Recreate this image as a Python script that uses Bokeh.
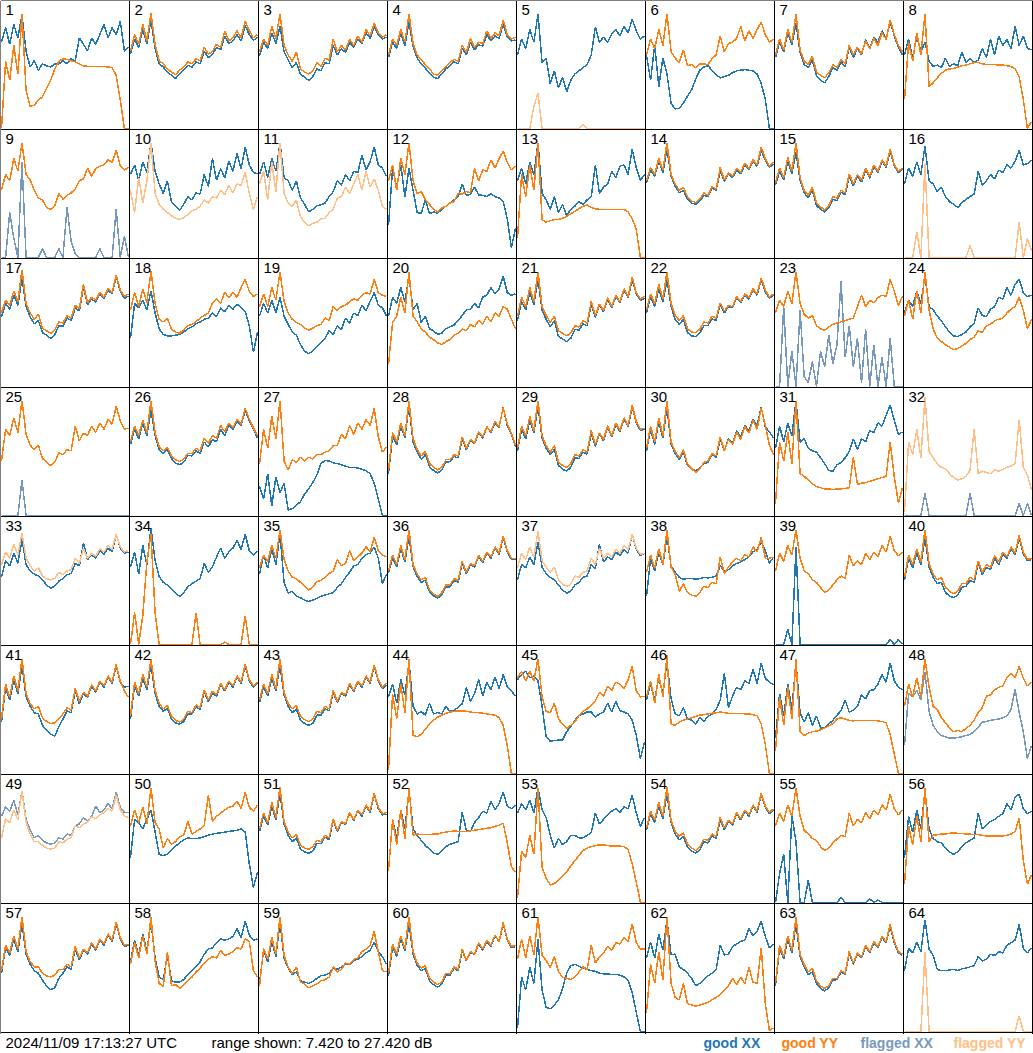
import numpy as np
from bokeh.plotting import figure
from bokeh.models import Range1d, InlineStyleSheet
from bokeh.embed import file_html
from bokeh.resources import INLINE
from bokeh.core.properties import value

DB_LO, DB_HI = 7.42, 27.42

XX_1 = [21.0,23.3,20.7,23.8,21.7,25.3,19.6,17.1,18.1,16.6,17.6,17.3,17.1,17.6,17.6,18.1,17.6,18.4,18.1,21.7,20.7,19.6,21.7,20.7,22.2,23.8,21.7,23.3,22.2,24.3,19.6,20.2]
YY_1 = [7.4,18.0,15.0,20.5,16.0,25.5,13.4,10.9,11.1,11.9,12.4,13.7,15.0,16.8,18.0,18.4,18.3,18.1,17.9,17.6,17.3,17.2,17.2,17.2,17.2,17.2,17.1,17.0,15.8,11.9,7.4,7.4]
XX_2 = [19.2,21.5,20.2,23.0,20.8,24.5,20.0,17.6,17.1,16.3,15.8,15.3,16.0,16.6,17.4,17.1,17.9,17.6,19.6,18.6,19.1,20.2,19.8,22.0,20.8,21.2,22.2,21.2,23.6,22.2,21.3,21.8]
YY_2 = [19.6,22.2,20.7,23.8,21.2,25.6,20.7,18.1,17.6,16.8,16.3,15.9,16.6,17.1,17.9,17.6,18.4,18.1,20.2,19.1,19.6,20.7,20.2,22.8,21.2,21.7,22.8,21.7,24.3,22.8,21.7,22.2]
XX_3 = [18.8,21.0,20.0,22.5,20.8,23.5,19.5,18.2,17.0,17.8,16.0,15.5,15.0,15.6,16.8,16.5,17.8,17.6,20.5,19.0,20.0,19.4,21.0,20.2,21.5,20.8,22.5,21.6,23.5,22.2,21.5,21.8]
YY_3 = [19.5,21.5,20.5,23.5,21.5,25.5,20.5,19.0,18.0,19.5,16.8,16.3,16.0,16.5,17.8,17.2,18.5,18.2,21.5,19.5,20.5,19.8,21.5,20.5,22.0,21.0,23.0,22.0,24.0,22.5,21.8,22.2]
XX_4 = [18.6,21.0,20.0,22.4,20.5,24.2,20.3,18.5,17.6,16.9,16.2,15.5,15.3,16.0,16.8,17.3,17.9,17.6,20.0,19.0,21.0,19.8,20.6,20.4,22.2,21.2,22.0,21.6,23.8,21.8,21.2,21.4]
YY_4 = [19.0,21.5,20.5,23.0,21.0,25.5,20.8,19.0,18.2,17.5,16.8,16.0,15.8,16.5,17.2,17.8,18.3,18.0,20.5,19.4,21.6,20.2,21.0,20.8,22.8,21.6,22.5,22.0,24.5,22.2,21.5,21.8]
XX_5 = [19.0,21.5,20.0,23.0,21.0,25.5,17.8,18.5,14.5,16.5,13.8,15.5,13.2,15.0,16.0,16.5,17.0,17.5,19.0,23.4,21.0,21.8,21.0,22.3,23.0,22.0,23.5,22.5,24.6,22.8,21.5,22.0]
YY_5 = [7.4,7.4,7.4,7.4,10.9,13.0,7.4,7.4,7.4,7.4,7.4,7.4,7.4,7.4,7.4,7.4,8.0,7.4,7.4,7.4,7.4,7.4,7.4,7.4,7.4,7.4,7.4,7.4,7.4,7.4,7.4,7.4]
XX_6 = [19.0,15.0,20.5,14.0,18.5,16.0,11.4,10.5,10.6,11.4,12.5,13.5,15.2,16.6,17.1,17.3,16.6,15.9,15.4,15.6,15.8,16.2,16.5,16.6,16.7,16.6,16.5,16.0,14.5,12.0,7.4,7.4]
YY_6 = [19.0,21.5,20.0,23.0,20.5,25.5,19.5,18.5,17.8,19.8,17.3,17.5,17.0,17.6,17.6,17.5,18.4,19.0,22.0,19.5,20.8,21.0,21.6,23.5,21.2,22.8,21.6,23.0,24.2,22.2,21.0,21.5]
XX_7 = [18.6,21.0,19.5,22.5,20.6,24.0,19.4,17.5,17.0,18.2,15.7,15.0,14.6,15.6,17.0,16.6,17.9,17.2,20.2,18.6,20.0,19.0,21.4,20.0,21.8,21.0,22.8,21.6,24.2,22.0,20.2,19.0]
YY_7 = [19.0,21.5,19.8,23.0,21.0,25.5,19.8,18.0,17.5,18.8,16.3,15.8,15.4,16.2,17.5,17.0,18.3,17.6,20.5,19.0,20.2,19.2,21.2,20.0,21.6,20.5,22.5,21.4,24.5,22.2,20.5,19.5]
XX_8 = [19.0,21.5,18.5,22.0,19.5,21.0,18.0,17.2,17.4,17.0,18.5,17.2,17.6,17.3,19.5,17.8,18.5,17.8,18.2,20.0,18.6,21.5,19.0,22.0,20.5,21.4,20.0,23.5,20.5,22.0,20.0,19.8]
YY_8 = [12.0,21.0,18.0,22.5,19.0,25.5,14.0,14.6,15.4,16.1,16.6,16.8,16.9,17.1,17.3,17.4,17.6,17.8,17.8,17.6,17.5,17.5,17.5,17.4,17.4,17.3,17.2,16.8,15.5,12.0,7.4,8.5]
XX_9 = [7.4,7.4,14.5,10.5,7.4,22.5,7.4,7.4,7.4,7.4,8.8,7.4,7.4,7.4,8.8,7.4,15.3,10.0,8.0,7.4,7.4,7.4,7.4,7.4,8.8,7.4,7.4,7.4,15.0,7.4,10.8,7.4]
YY_9 = [18.0,20.5,19.5,23.0,21.0,25.5,20.5,19.6,18.0,16.8,16.5,15.3,15.0,15.5,17.5,16.6,17.2,17.6,18.2,19.5,19.8,21.5,20.2,21.4,21.8,22.0,22.8,22.4,24.3,21.8,21.2,21.6]
XX_10 = [20.5,22.0,19.5,22.5,20.8,25.5,21.0,19.0,17.5,19.5,16.2,15.5,14.9,15.8,17.0,16.5,17.6,17.4,20.5,18.6,23.0,19.6,21.4,20.0,22.6,21.0,23.8,21.4,24.8,22.0,20.8,20.6]
YY_10 = [18.0,14.5,20.0,16.0,19.5,25.5,17.5,15.8,15.0,14.5,14.0,13.6,13.4,13.7,14.2,14.8,15.0,15.5,16.5,16.0,17.0,16.8,18.0,17.3,18.8,17.6,19.0,18.8,20.8,17.5,15.0,17.0]
XX_11 = [20.5,22.5,20.0,23.0,21.0,25.5,20.0,19.5,18.0,19.5,16.8,15.8,14.6,15.0,15.6,15.7,16.0,17.0,17.8,19.5,18.8,20.5,19.5,21.0,20.8,23.5,21.2,22.5,24.8,22.0,21.5,20.2]
YY_11 = [19.0,21.0,16.5,22.5,17.8,25.5,17.5,16.0,15.5,16.5,13.8,13.0,12.4,12.8,13.0,13.5,13.6,14.5,15.0,16.8,17.0,18.5,17.5,19.0,20.5,18.0,21.0,18.5,19.8,18.0,15.5,15.0]
XX_12 = [12.5,21.5,18.5,22.0,17.0,21.5,18.0,14.5,14.4,16.5,14.3,14.6,14.4,15.0,15.5,16.0,16.5,17.0,19.0,17.2,17.4,18.5,17.3,17.2,17.0,17.5,17.0,16.8,16.2,13.5,9.0,12.0]
YY_12 = [19.5,22.0,18.0,23.0,20.5,25.5,19.5,17.5,17.8,16.5,15.8,15.0,14.6,15.2,15.5,16.0,16.2,17.5,17.4,17.8,17.6,21.5,19.5,21.2,21.0,22.8,21.5,23.0,24.2,22.4,21.2,21.8]
XX_13 = [19.5,21.5,19.0,22.5,20.5,25.5,17.5,16.5,15.0,17.0,14.5,15.8,14.0,15.0,15.5,16.2,15.8,16.5,17.0,22.0,17.5,18.5,19.0,21.0,20.0,21.8,22.0,20.5,24.5,21.5,19.6,20.5]
YY_13 = [10.5,20.5,17.0,22.0,18.0,25.5,13.4,13.0,13.2,13.4,13.4,13.6,13.9,14.3,14.7,15.1,15.5,15.7,15.3,15.1,15.0,15.0,15.0,15.0,15.0,15.0,15.0,14.6,13.5,11.8,7.4,7.4]
XX_14 = [19.2,21.2,20.2,22.6,20.8,24.5,20.2,18.6,17.6,18.0,16.6,16.0,15.8,16.3,17.2,17.0,18.3,18.0,21.0,19.4,20.6,20.0,21.2,20.6,22.0,21.2,22.5,21.8,24.3,22.7,21.6,22.2]
YY_14 = [19.5,21.6,20.5,23.0,21.2,25.5,20.5,19.0,18.0,18.5,17.0,16.3,16.1,16.6,17.6,17.2,18.6,18.2,21.6,19.6,20.8,20.2,21.5,20.8,22.3,21.4,22.8,22.0,24.8,23.0,21.8,22.4]
XX_15 = [18.8,21.0,19.6,22.5,20.6,24.0,19.6,17.6,16.8,18.0,15.6,15.0,14.6,15.3,16.6,16.4,17.7,17.3,20.2,18.7,20.2,19.3,21.2,19.9,21.7,20.8,22.6,21.6,24.2,21.8,20.8,21.3]
YY_15 = [19.2,21.5,20.0,23.2,21.0,25.5,20.0,18.0,17.2,18.5,16.0,15.4,14.9,15.6,17.0,16.8,18.0,17.6,20.6,19.0,20.5,19.6,21.5,20.2,22.0,21.0,22.8,21.8,24.5,22.0,21.0,21.5]
XX_16 = [19.0,21.5,20.2,22.5,20.5,25.0,19.5,19.0,17.8,18.5,17.0,16.2,15.8,15.3,16.0,16.6,17.0,17.4,21.0,18.8,19.5,20.5,19.8,21.2,20.8,22.0,21.5,22.6,24.3,22.0,22.2,22.8]
YY_16 = [7.4,7.4,7.4,11.4,7.4,22.2,7.4,7.4,7.4,7.4,7.4,7.4,7.4,7.4,7.4,7.4,9.3,7.4,7.4,7.4,7.4,7.4,7.4,7.4,7.4,7.4,7.4,7.4,13.0,7.4,10.4,8.5]
XX_17 = [18.4,20.5,19.6,21.8,20.2,24.5,20.0,18.4,17.3,17.8,15.9,15.5,15.0,15.6,17.0,16.9,18.2,17.8,19.8,19.3,23.0,20.3,21.2,20.7,22.0,21.3,22.6,22.0,24.8,22.4,21.3,21.7]
YY_17 = [19.0,21.0,20.2,22.5,20.8,25.8,20.5,19.0,18.0,18.8,16.6,16.2,15.8,16.3,17.6,17.4,18.6,18.2,20.2,19.6,23.5,20.6,21.5,21.0,22.2,21.5,22.8,22.2,25.0,22.6,21.6,22.0]
XX_18 = [15.0,20.5,19.8,21.0,19.5,22.5,19.0,16.5,15.6,15.4,15.4,15.5,15.6,16.0,16.5,16.8,17.3,17.6,18.0,18.2,19.0,18.4,19.8,19.2,20.2,19.6,20.4,19.8,19.2,17.0,12.8,16.0]
YY_18 = [19.5,22.2,20.0,22.8,20.6,25.6,20.5,18.0,17.6,18.2,16.4,16.0,15.8,16.4,17.0,17.2,17.6,18.2,18.6,19.0,20.6,21.2,20.5,22.3,21.4,22.2,21.5,23.0,24.3,22.4,21.6,22.0]
XX_19 = [18.5,20.5,19.0,21.0,19.0,21.5,18.5,17.2,16.0,15.5,14.0,13.0,12.6,13.0,13.7,14.4,15.0,16.2,15.6,17.0,16.4,18.2,17.4,19.0,18.6,20.2,19.4,20.8,22.2,20.2,19.8,18.5]
YY_19 = [20.0,22.0,20.0,23.0,21.0,25.5,20.8,19.0,18.0,17.5,17.2,16.6,16.3,16.6,17.0,17.2,18.2,17.8,20.0,19.4,20.0,20.2,20.8,21.2,21.0,21.8,22.2,22.0,24.3,22.2,21.8,21.6]
XX_20 = [18.5,21.5,20.5,23.0,20.8,24.8,19.5,20.5,17.5,18.5,16.5,16.2,15.6,15.8,16.5,16.8,17.1,17.8,18.6,19.5,19.6,20.5,19.8,21.5,21.8,23.0,22.0,22.8,24.8,22.2,21.8,22.0]
YY_20 = [10.9,17.5,18.5,21.5,19.0,25.5,18.5,17.6,16.5,16.0,15.2,14.8,14.3,14.0,14.5,14.8,15.5,15.8,16.5,16.2,17.2,16.8,17.8,17.2,18.5,17.6,19.0,18.5,20.0,19.6,18.0,16.5]
XX_21 = [17.8,20.8,19.5,22.3,20.3,24.3,19.4,18.0,16.8,17.8,15.3,14.9,14.5,15.0,16.4,16.3,17.3,17.0,20.4,18.3,20.2,19.2,21.2,19.8,21.6,20.6,22.6,21.4,24.2,22.0,21.0,21.3]
YY_21 = [18.5,21.5,20.0,23.0,20.8,25.5,20.0,18.6,17.5,18.5,16.2,15.8,15.4,15.8,17.0,16.8,17.8,17.4,20.8,18.6,20.4,19.4,21.4,20.0,21.8,20.8,22.8,21.6,24.6,22.2,21.2,21.6]
XX_22 = [19.0,21.5,20.0,22.8,20.7,24.2,20.0,18.0,17.2,18.0,15.9,15.4,15.3,15.8,17.0,17.0,18.1,17.8,20.3,19.0,20.0,19.8,21.4,20.6,21.8,21.2,22.6,21.8,24.2,22.3,21.3,21.8]
YY_22 = [19.5,22.0,20.5,23.5,21.2,25.5,20.5,18.6,17.8,18.6,16.5,16.0,15.9,16.4,17.6,17.4,18.5,18.2,20.6,19.3,20.2,20.0,21.6,20.8,22.0,21.4,22.8,22.0,24.5,22.6,21.5,22.0]
XX_23 = [7.4,7.4,20.0,7.4,13.0,7.4,19.4,9.0,8.0,11.4,7.4,13.0,10.5,15.5,11.0,14.0,24.0,12.0,17.0,10.5,15.0,8.0,16.5,7.4,14.0,7.4,12.0,7.4,15.0,7.4,7.4,7.4]
YY_23 = [19.0,21.0,20.0,22.5,20.5,25.5,20.5,18.8,18.2,18.6,17.0,16.5,16.3,16.8,17.2,17.4,17.6,17.8,18.0,18.2,20.0,21.8,20.0,21.0,20.6,21.4,21.8,21.6,24.3,22.4,20.2,21.6]
XX_24 = [19.0,21.0,20.0,22.5,20.5,24.8,20.0,19.5,18.5,17.8,16.8,16.0,15.4,15.3,15.6,16.0,16.8,17.4,19.8,18.6,18.4,19.6,20.0,21.5,21.2,23.0,21.8,23.5,24.3,22.2,21.6,21.8]
YY_24 = [18.5,21.0,18.0,22.5,19.0,25.5,19.4,16.5,15.0,14.5,14.0,13.6,13.2,13.4,13.8,14.2,14.8,15.2,16.2,15.9,17.0,17.2,17.8,18.0,18.2,19.0,19.6,20.0,21.5,19.4,16.5,18.0]
XX_25 = [7.4,7.4,7.4,7.4,7.4,13.0,7.4,7.4,7.4,7.4,7.4,7.4,7.4,7.4,7.4,7.4,7.4,7.4,7.4,7.4,7.4,7.4,7.4,7.4,7.4,7.4,7.4,7.4,7.4,7.4,7.4,7.4]
YY_25 = [16.0,21.0,20.0,22.8,20.5,25.5,20.2,18.5,17.8,18.5,16.4,15.8,15.3,15.8,17.3,17.0,17.8,17.6,21.5,19.2,20.4,20.0,21.5,20.5,22.0,21.0,22.5,21.8,24.6,22.3,21.0,21.2]
XX_26 = [18.6,21.0,19.5,22.0,20.0,24.0,20.0,17.8,17.2,17.8,16.4,15.7,15.4,15.8,16.9,16.8,17.6,17.2,19.0,18.2,19.4,19.0,21.0,20.0,21.6,21.0,22.3,21.6,24.0,22.3,21.0,19.6]
YY_26 = [19.0,21.5,20.0,22.5,20.5,25.5,20.5,18.2,17.6,18.2,16.8,16.2,15.9,16.3,17.2,17.2,18.0,17.6,19.6,18.8,20.0,19.6,21.6,20.6,22.0,21.2,22.6,21.8,24.3,22.6,21.2,20.0]
XX_27 = [12.0,10.0,14.0,9.0,13.5,11.0,12.5,8.3,8.5,9.0,9.6,10.8,11.6,12.6,13.8,15.6,16.1,16.0,15.7,15.6,15.4,15.2,15.0,15.0,14.9,14.7,14.5,14.0,12.5,10.0,7.4,7.4]
YY_27 = [15.5,21.0,18.0,23.0,19.5,25.5,16.0,14.6,16.2,15.8,16.6,16.0,16.6,16.3,17.0,17.0,17.4,17.6,18.4,18.5,20.2,19.5,21.6,20.2,22.0,21.0,22.5,21.6,24.3,19.8,17.4,18.2]
XX_28 = [14.0,20.0,18.5,21.5,19.6,24.8,19.0,17.4,16.3,17.0,15.1,14.5,14.1,14.6,15.8,15.9,16.7,16.5,19.5,17.8,19.2,18.7,20.5,19.6,21.4,20.5,22.0,21.3,24.5,21.5,20.2,18.2]
YY_28 = [14.5,20.5,19.0,22.0,20.0,25.5,19.5,17.8,16.8,17.5,15.6,15.0,14.6,15.0,16.2,16.2,17.0,16.8,19.8,18.0,19.4,18.8,20.6,19.8,21.4,20.6,22.2,21.4,24.4,21.8,20.4,18.5]
XX_29 = [17.6,21.0,19.5,22.4,20.4,24.6,19.6,18.0,17.0,17.8,15.3,14.7,14.4,15.0,16.5,16.4,17.4,17.1,20.4,18.3,20.2,19.2,21.4,19.8,21.8,20.6,22.6,21.4,24.5,22.0,20.8,21.0]
YY_29 = [18.0,21.5,20.0,23.0,20.8,25.5,20.0,18.4,17.4,18.4,15.8,15.3,15.0,15.6,17.0,16.8,17.8,17.4,20.8,18.6,20.4,19.4,21.6,20.0,22.0,20.8,22.8,21.6,24.8,22.2,21.0,21.2]
XX_30 = [17.6,21.0,18.6,22.2,19.6,24.5,18.6,17.2,16.2,17.4,15.3,14.8,14.5,14.9,15.6,15.8,17.0,16.6,19.4,17.6,19.5,18.8,20.8,19.8,21.6,20.8,22.6,21.6,24.5,21.4,20.6,19.6]
YY_30 = [18.0,21.5,19.0,22.8,20.0,25.5,19.0,17.5,16.5,17.8,15.5,14.8,14.2,14.8,15.8,16.0,17.2,16.8,19.8,17.6,19.4,18.6,20.6,19.4,21.4,20.4,22.4,21.0,24.4,21.6,18.5,17.0]
XX_31 = [18.0,21.5,19.0,22.0,20.0,25.5,19.0,19.5,18.0,17.6,17.4,16.5,15.6,14.5,14.4,15.4,15.8,16.5,17.5,19.5,17.8,19.5,19.0,20.8,20.5,22.0,21.5,23.2,24.8,22.4,20.2,20.6]
YY_31 = [9.3,19.0,16.0,20.5,15.5,25.5,14.0,13.6,13.0,12.4,12.0,11.8,11.6,11.6,11.5,11.6,11.6,11.7,11.8,16.6,12.3,12.5,12.6,12.8,13.0,13.2,13.4,13.6,19.0,13.5,9.4,11.8]
XX_32 = [7.4,7.4,7.4,7.4,7.4,10.9,7.4,7.4,7.4,7.4,7.4,7.4,7.4,7.4,7.4,7.4,10.9,7.4,7.4,7.4,7.4,7.4,7.4,7.4,7.4,7.4,7.4,7.4,9.3,7.4,9.3,7.4]
YY_32 = [8.0,19.0,17.0,21.0,16.5,26.0,17.5,16.5,15.6,15.0,14.8,14.0,13.4,13.0,13.2,13.6,14.5,21.0,14.0,14.4,14.2,14.0,14.6,14.4,14.7,15.0,15.2,15.6,22.5,15.0,13.8,11.5]
XX_33 = [18.0,20.6,19.8,21.8,20.2,24.0,20.0,19.0,18.5,18.2,17.6,16.8,16.3,16.6,17.4,17.8,18.4,18.6,20.2,19.8,23.4,20.8,21.5,21.0,22.2,21.6,22.6,22.0,24.8,22.6,21.8,22.0]
YY_33 = [20.0,22.0,21.0,23.2,21.6,25.0,21.0,19.8,19.0,19.5,18.2,17.8,17.6,17.8,18.8,18.4,19.0,19.2,21.0,20.2,22.5,21.0,21.8,21.3,22.5,22.0,23.0,22.4,24.8,22.8,22.0,22.2]
XX_34 = [19.6,22.0,18.5,23.0,20.0,25.8,20.7,18.1,17.2,16.8,16.2,15.5,15.0,15.6,16.5,17.0,17.4,17.8,20.2,18.8,19.6,21.2,22.6,21.0,22.0,22.6,23.8,22.4,24.8,22.2,21.5,22.2]
YY_34 = [7.4,12.5,7.4,12.0,20.5,24.8,12.4,7.4,7.4,7.4,7.4,7.4,7.4,7.4,7.4,7.4,12.4,7.4,7.4,7.4,7.4,7.4,7.4,7.8,7.4,7.4,7.4,7.4,11.9,7.4,7.4,7.4]
XX_35 = [18.5,21.5,19.5,22.5,20.0,24.8,17.2,15.5,15.8,15.0,14.8,14.4,14.2,14.4,14.7,15.0,15.2,15.4,15.6,16.4,17.0,18.0,18.8,19.8,20.0,21.0,21.6,21.8,22.8,21.0,17.0,18.5]
YY_35 = [19.5,21.5,20.5,23.0,21.0,25.5,20.8,19.0,18.0,17.8,17.2,16.6,16.0,16.5,17.3,17.5,18.0,18.6,19.0,20.8,19.8,20.2,22.2,20.6,21.2,21.8,22.8,22.0,24.3,22.2,21.5,21.2]
XX_36 = [18.7,21.1,19.6,22.6,20.4,24.4,19.7,18.1,17.2,17.6,15.7,15.1,14.7,15.3,16.5,16.5,17.5,17.2,20.2,18.5,20.0,19.6,21.3,20.3,21.8,21.0,22.6,21.6,24.3,22.0,20.8,20.8]
YY_36 = [19.0,21.5,20.0,23.0,20.8,25.5,20.0,18.5,17.6,18.0,16.0,15.4,15.0,15.6,16.8,16.8,17.8,17.5,20.5,18.8,20.2,19.8,21.5,20.5,22.0,21.2,22.8,21.8,24.5,22.2,21.0,21.0]
XX_37 = [17.6,20.0,19.5,21.2,20.0,23.5,19.6,18.6,18.0,17.6,16.8,16.0,15.5,15.8,16.8,17.2,18.0,18.2,20.0,19.4,23.2,20.4,21.2,20.8,22.0,21.4,22.4,21.8,24.8,22.4,21.4,21.8]
YY_37 = [19.5,21.8,20.8,22.8,21.2,25.2,20.6,19.6,18.8,19.6,17.6,16.9,16.6,16.9,18.2,18.0,18.8,19.0,21.0,20.0,22.6,21.0,21.8,21.2,22.4,21.8,23.0,22.3,24.8,22.6,21.6,21.8]
XX_38 = [15.0,21.0,19.0,22.0,20.0,24.5,19.8,18.8,18.0,17.7,17.8,17.8,17.7,17.8,18.0,17.9,18.0,18.2,19.8,19.0,19.2,19.8,20.2,20.4,20.8,21.2,22.0,22.4,23.6,22.2,20.2,21.2]
YY_38 = [18.8,21.5,19.5,22.5,20.0,25.5,19.6,18.5,15.8,17.0,15.6,15.2,15.0,15.6,16.6,16.4,17.2,17.0,21.2,18.6,19.6,20.4,21.0,20.6,21.6,21.2,22.8,22.0,24.3,21.0,21.0,21.2]
XX_39 = [7.4,7.4,7.4,9.8,7.4,22.8,7.4,7.4,7.4,7.4,7.4,7.4,7.4,7.4,7.4,7.4,7.4,7.4,7.4,7.4,7.4,7.4,7.4,7.4,7.4,7.4,7.4,7.4,8.2,7.4,8.2,7.4]
YY_39 = [19.0,21.8,20.5,23.0,21.5,25.5,21.0,19.0,18.6,17.6,17.2,16.4,15.6,16.0,16.8,17.6,18.2,17.8,21.5,19.8,20.6,20.0,21.8,20.8,22.0,21.2,23.0,22.0,24.4,22.2,21.4,22.0]
XX_40 = [17.6,21.0,19.5,21.8,20.0,24.2,19.6,18.0,17.0,17.2,15.6,15.0,14.8,15.2,16.4,16.6,17.5,17.2,20.2,18.4,19.6,19.2,21.0,20.0,21.6,21.0,22.5,21.5,24.3,21.7,20.6,20.8]
YY_40 = [18.0,21.5,20.0,22.5,20.5,25.5,20.2,18.5,17.6,18.0,16.4,15.8,15.4,15.8,17.0,17.0,18.0,17.6,20.6,18.8,20.0,19.6,21.4,20.4,22.0,21.2,22.8,21.8,24.6,22.0,20.8,21.0]
XX_41 = [15.5,21.0,19.0,22.2,20.0,24.4,19.5,18.0,17.0,16.8,15.0,14.2,13.6,13.3,14.8,16.0,17.3,17.0,20.4,18.4,20.0,19.4,21.2,20.2,21.8,21.0,22.6,21.6,24.4,21.8,21.0,21.2]
YY_41 = [16.0,21.5,19.5,22.8,20.5,25.5,20.0,18.4,17.6,18.0,16.2,15.6,15.3,15.4,16.0,16.8,17.8,17.4,20.8,18.8,20.2,19.6,21.4,20.4,22.0,21.2,22.8,21.8,24.6,22.0,20.4,19.4]
XX_42 = [16.0,21.3,19.6,22.4,20.6,24.5,20.0,18.0,17.2,17.7,16.0,15.4,15.2,15.6,16.8,16.8,17.9,17.5,20.3,18.7,20.1,19.6,21.4,20.4,21.8,21.0,22.6,21.6,24.4,22.0,21.0,21.6]
YY_42 = [16.5,21.8,20.0,23.0,21.0,25.5,20.5,18.5,17.6,18.2,16.4,15.8,15.5,16.0,17.2,17.0,18.2,17.8,20.6,19.0,20.4,19.8,21.6,20.6,22.0,21.2,22.8,21.8,24.6,22.2,21.2,21.8]
XX_43 = [18.6,21.0,19.6,22.4,20.4,24.4,19.8,18.0,17.0,17.6,15.8,15.3,15.0,15.3,16.6,16.6,17.6,17.3,20.2,18.6,20.0,19.6,21.4,20.3,21.8,21.0,22.6,21.6,24.3,22.0,20.8,21.4]
YY_43 = [19.0,21.5,20.0,23.0,20.8,25.5,20.2,18.4,17.6,18.2,16.4,15.9,15.6,16.0,17.2,17.0,18.0,17.6,20.5,18.8,20.2,19.8,21.6,20.5,22.0,21.2,22.8,21.8,24.5,22.2,21.0,21.6]
XX_44 = [19.5,21.5,18.5,22.2,19.8,25.0,18.0,16.8,17.2,16.6,18.5,16.8,17.0,16.8,18.0,17.2,17.4,17.8,18.4,21.0,18.8,20.0,22.2,19.6,21.8,20.6,22.6,20.8,23.0,21.0,20.4,19.6]
YY_44 = [8.0,20.0,16.0,21.5,17.0,25.5,13.4,13.2,13.6,14.4,15.2,15.8,16.3,16.6,16.9,17.1,17.2,17.3,17.3,17.2,17.1,17.0,17.0,16.9,16.8,16.7,16.6,16.2,15.0,11.8,7.4,7.4]
XX_45 = [22.2,23.0,23.5,22.5,22.8,22.0,18.0,13.2,12.5,12.6,12.7,12.7,14.0,14.8,15.8,16.6,16.8,17.1,17.1,16.3,16.8,17.1,18.5,17.1,18.8,17.3,17.1,16.8,15.8,13.4,9.8,12.4]
YY_45 = [22.5,23.5,22.0,23.5,22.0,25.5,19.5,17.2,17.0,18.5,16.0,15.2,14.5,15.0,15.6,16.5,17.2,17.6,18.2,18.8,20.2,19.6,21.2,20.5,21.8,21.5,20.8,22.2,24.3,20.4,19.5,19.6]
XX_46 = [19.0,21.5,19.0,22.5,20.0,25.0,19.2,16.8,16.5,17.8,16.0,15.8,15.2,16.2,15.6,16.4,16.8,17.5,19.0,23.2,17.8,19.6,21.0,20.6,22.0,21.6,23.8,21.6,24.8,22.4,21.8,21.4]
YY_46 = [19.5,22.0,18.5,23.0,19.5,26.0,15.2,15.0,15.5,15.8,16.0,16.2,16.4,16.6,16.7,16.8,16.9,17.0,17.1,17.0,16.9,16.9,16.9,16.9,16.8,16.8,16.7,16.5,15.2,12.0,7.4,7.4]
XX_47 = [13.0,20.0,16.5,21.5,17.5,25.0,17.0,15.5,17.0,15.0,16.5,14.6,14.6,15.2,15.8,16.6,17.3,19.0,17.1,17.4,18.0,19.8,19.2,20.5,20.6,21.5,23.0,21.8,24.8,22.0,21.0,20.6]
YY_47 = [11.0,19.5,15.0,21.0,16.0,25.5,14.0,13.4,13.8,14.0,14.1,14.3,14.6,14.9,15.3,16.0,16.2,16.0,15.8,15.7,15.8,15.8,15.8,15.8,15.8,15.7,15.6,15.4,13.5,10.5,7.4,7.4]
XX_48 = [11.9,20.0,19.5,20.5,19.0,23.4,17.2,15.0,14.0,13.4,13.2,13.0,13.0,13.1,13.2,13.4,13.6,14.0,14.7,15.5,15.6,15.8,15.9,16.0,16.2,16.5,17.5,20.7,17.0,14.0,9.8,11.8]
YY_48 = [18.0,21.5,19.5,22.5,19.5,25.5,21.0,18.0,17.5,16.2,15.4,14.6,14.0,14.2,14.0,14.5,15.0,15.8,17.0,17.8,19.6,19.8,20.6,21.0,21.2,22.5,23.2,22.5,24.3,22.4,21.2,21.8]
XX_49 = [21.0,22.5,21.8,23.5,21.2,25.0,20.5,18.8,17.6,18.0,17.2,16.8,16.6,16.8,17.6,17.4,18.2,18.0,19.5,19.8,20.8,20.2,21.0,22.6,21.6,22.0,23.0,22.2,24.8,22.4,21.6,21.6]
YY_49 = [17.6,20.6,20.0,22.0,20.5,25.0,20.0,18.2,17.0,17.0,16.4,16.0,15.8,16.0,17.0,16.8,17.4,17.6,19.5,19.2,19.8,20.0,21.0,20.6,21.2,21.6,22.2,21.8,24.3,22.0,21.0,20.8]
XX_50 = [14.5,20.5,20.0,19.0,20.5,22.0,18.5,15.0,14.8,15.0,15.7,16.3,16.8,17.3,17.6,17.5,17.5,17.6,17.8,18.0,18.2,18.3,18.4,18.5,18.6,18.7,18.8,19.0,18.5,13.5,9.8,12.2]
YY_50 = [19.5,22.0,20.0,22.5,19.8,25.5,20.0,19.0,16.0,17.5,16.6,17.0,17.8,18.0,20.2,18.2,18.6,19.0,19.6,24.3,20.2,21.0,21.5,22.0,22.4,22.6,23.4,22.2,24.8,22.4,21.8,22.8]
XX_51 = [18.6,21.0,19.6,22.6,20.4,24.6,19.8,18.0,17.0,17.6,15.8,15.4,15.2,15.5,16.7,16.7,17.7,17.3,20.4,18.6,20.0,19.7,21.5,20.3,21.9,21.0,22.6,21.6,24.4,22.2,21.2,21.4]
YY_51 = [19.0,21.5,20.0,23.2,20.8,25.6,20.2,18.5,17.6,18.2,16.4,16.0,15.8,16.2,17.2,17.0,18.0,17.6,20.6,18.8,20.2,19.8,21.6,20.4,22.0,21.2,22.8,21.8,24.6,22.4,21.4,21.6]
XX_52 = [12.4,20.5,17.5,22.0,19.0,25.2,19.0,18.0,17.2,16.4,15.8,15.2,15.0,15.6,16.2,16.6,16.8,17.0,21.6,18.8,18.6,20.0,20.8,21.8,21.5,23.4,22.0,23.0,24.8,22.6,22.2,22.8]
YY_52 = [12.4,20.5,16.5,22.0,17.5,25.5,18.0,18.2,18.1,18.1,18.1,18.2,18.2,18.4,18.5,18.6,18.7,18.6,18.6,18.6,18.7,18.8,18.9,19.0,19.1,19.2,19.4,19.6,19.9,16.8,13.0,12.2]
XX_53 = [21.5,23.0,22.0,23.5,21.5,25.5,22.0,20.8,18.0,16.0,17.5,16.5,17.0,18.0,18.0,17.6,17.6,18.0,18.4,21.5,19.8,20.5,21.2,21.8,22.2,21.6,22.5,22.2,24.3,21.5,19.4,20.8]
YY_53 = [8.2,15.5,14.5,18.0,15.0,25.5,13.0,11.2,10.2,10.4,10.9,11.6,12.2,13.2,14.0,14.8,15.6,16.0,16.2,16.4,16.5,16.5,16.4,16.3,16.3,16.3,16.2,15.8,13.5,10.6,7.4,7.4]
XX_54 = [18.9,21.4,20.0,22.6,20.6,24.6,20.0,18.2,17.3,17.8,16.1,15.5,15.2,15.7,17.0,16.8,17.9,17.5,20.4,18.9,20.2,19.6,21.4,20.4,21.8,21.0,22.6,21.6,24.4,22.4,21.4,22.0]
YY_54 = [19.2,21.8,20.4,23.2,21.0,25.6,20.4,18.6,17.8,18.4,16.6,16.0,15.6,16.2,17.4,17.2,18.2,17.8,20.8,19.2,20.4,19.8,21.6,20.6,22.0,21.2,22.8,21.8,24.6,22.6,21.6,22.2]
XX_55 = [7.4,12.0,15.0,7.4,21.2,17.0,7.4,7.4,10.9,7.4,7.4,7.4,7.4,7.4,7.4,7.4,8.2,7.4,7.4,7.4,7.4,7.4,7.4,8.0,7.4,7.8,7.4,7.4,7.4,7.4,7.4,7.4]
YY_55 = [19.5,21.5,20.2,22.8,21.0,25.5,21.0,18.8,18.2,17.5,17.2,16.2,15.6,16.0,16.8,17.4,18.0,17.8,21.5,19.5,20.5,20.0,21.6,20.6,22.0,21.2,22.8,22.0,24.4,22.2,21.2,22.0]
XX_56 = [14.5,21.0,18.5,22.0,19.0,25.0,19.0,17.5,17.0,16.8,16.0,15.4,15.0,15.4,16.2,16.8,17.2,17.6,21.5,19.0,19.6,20.2,20.5,21.0,21.4,23.0,22.0,24.0,24.5,22.2,21.4,21.8]
YY_56 = [10.4,19.5,16.5,21.0,17.0,25.5,17.0,18.0,18.1,18.2,18.2,18.3,18.4,18.3,18.3,18.2,18.2,18.1,18.1,18.0,17.9,17.9,17.9,17.9,17.9,18.0,18.2,18.6,20.7,14.0,10.3,11.8]
XX_57 = [16.6,20.6,19.4,22.0,20.0,24.4,19.6,18.0,17.0,16.6,15.5,14.6,14.0,14.3,15.8,16.6,17.6,17.2,20.4,18.7,20.2,19.6,21.2,20.2,21.8,21.0,22.6,21.6,24.4,22.0,20.8,21.0]
YY_57 = [17.0,21.0,19.8,22.5,20.5,25.5,20.0,18.4,17.6,17.6,16.6,16.2,16.0,16.3,17.2,17.2,18.0,17.6,20.8,19.0,20.4,19.8,21.4,20.4,22.0,21.2,22.8,21.8,24.6,22.2,21.0,21.2]
XX_58 = [18.4,21.8,19.4,22.8,20.0,24.8,19.0,16.0,15.6,19.5,15.4,15.2,15.2,15.6,16.4,17.0,17.6,18.4,19.6,20.4,20.6,21.4,22.0,21.8,22.0,22.4,23.6,22.2,24.8,22.6,21.8,22.0]
YY_58 = [18.0,21.5,19.0,22.5,19.6,25.5,18.5,15.0,14.5,20.0,14.6,14.8,14.2,14.8,15.4,16.0,16.8,17.4,18.2,18.8,19.2,19.0,20.2,19.4,19.6,20.0,20.6,20.4,22.0,21.6,17.0,16.0]
XX_59 = [15.0,20.2,18.4,21.6,19.2,24.6,19.0,17.4,16.4,16.8,15.4,15.2,15.0,15.3,15.8,16.2,16.3,16.6,17.4,17.2,17.6,18.0,18.0,18.6,18.8,19.2,19.8,20.2,21.5,20.0,19.2,18.0]
YY_59 = [14.6,20.5,18.8,22.2,19.6,25.5,19.4,17.6,16.5,17.6,15.2,14.9,14.3,14.6,14.9,15.4,15.6,16.0,17.6,16.8,17.2,18.2,18.0,18.8,19.0,20.0,20.4,21.0,23.2,20.0,17.0,16.8]
XX_60 = [16.2,20.8,19.2,22.0,20.1,24.4,19.6,17.8,17.0,17.3,15.4,14.8,14.4,14.9,16.3,16.3,17.4,17.0,20.2,18.5,19.9,19.5,21.2,20.2,21.6,20.8,22.5,21.5,24.4,21.8,20.6,20.8]
YY_60 = [16.6,21.2,19.6,22.5,20.5,25.5,20.0,18.2,17.4,17.8,15.8,15.2,14.8,15.2,16.6,16.5,17.6,17.2,20.4,18.6,20.0,19.6,21.4,20.4,21.8,21.0,22.6,21.6,24.6,22.0,20.8,21.0]
XX_61 = [8.0,16.0,14.0,17.5,15.0,22.0,14.0,11.2,11.0,11.6,12.4,14.2,16.6,17.8,18.0,17.7,17.4,17.2,17.0,16.9,16.6,16.5,16.5,16.4,16.4,16.3,16.0,15.5,13.6,10.4,7.4,7.4]
YY_61 = [18.8,22.0,19.0,22.5,19.5,25.5,19.4,18.6,17.5,19.2,16.8,16.0,15.8,15.6,16.0,16.8,17.6,17.2,21.0,18.2,19.2,19.8,20.8,20.2,21.4,21.2,22.2,21.6,24.4,21.4,20.4,20.4]
XX_62 = [19.0,21.5,19.0,22.8,20.2,25.0,19.5,19.6,17.6,17.2,16.6,15.8,14.6,15.0,15.6,16.2,16.6,17.2,21.0,19.5,19.6,20.8,21.2,21.6,21.8,23.6,22.5,23.2,24.8,22.4,20.6,21.2]
YY_62 = [10.4,18.0,15.0,20.0,15.5,25.5,15.0,12.8,12.4,15.0,11.8,11.6,11.4,11.6,11.8,12.0,12.4,12.8,13.2,14.0,14.6,15.8,14.8,16.0,15.0,17.5,15.2,15.0,20.6,11.8,7.6,8.0]
XX_63 = [14.6,20.6,18.8,22.0,19.8,24.4,19.2,17.6,16.4,16.8,15.0,14.2,13.8,14.3,15.5,15.6,16.8,16.4,19.8,18.0,19.6,19.0,20.8,19.8,21.4,20.6,22.2,21.4,24.0,21.4,19.8,19.4]
YY_63 = [15.0,21.0,19.2,22.5,20.2,25.5,19.6,18.0,16.8,17.4,15.4,14.6,14.2,14.6,15.8,15.8,17.0,16.6,20.0,18.2,19.8,19.2,21.0,20.0,21.6,20.8,22.4,21.6,24.3,21.6,20.0,19.6]
XX_64 = [17.0,20.5,19.8,21.5,20.0,25.0,20.4,19.4,17.2,17.0,17.0,17.1,17.2,17.0,17.3,17.4,17.6,17.8,19.2,18.5,18.8,19.6,19.4,20.0,19.8,21.0,21.4,21.8,24.3,20.5,19.8,20.6]
YY_64 = [7.4,7.4,7.4,7.4,7.4,19.9,7.4,7.4,7.4,7.4,7.4,7.4,7.4,7.4,7.4,7.4,7.4,7.4,7.4,7.4,7.4,7.4,7.4,7.4,7.4,7.4,7.4,7.4,9.9,7.4,7.4,7.4]

PANELS = list(range(1, 65))
FLAGGED_XX = [9, 23, 25, 32, 48, 49]
FLAGGED_YY = [5, 10, 11, 16, 32, 33, 37, 49, 64]
TIMESTAMP = "2024/11/09 17:13:27 UTC"
RANGE_TEXT = "range shown: 7.420 to 27.420 dB"
LEGEND_LABELS = ["good XX", "good YY", "flagged XX", "flagged YY"]
LEGEND_COLORS = ["#1f77b4", "#ff7f0e", "#7799bb", "#ffbf86"]

# layout constants (pixels)
W, H = 1033, 1053
NCOLS, NROWS = 8, 8
CELL = 129
INNER = 127

COLORS = dict(zip(LEGEND_LABELS, LEGEND_COLORS))

p = figure(width=W, height=H, x_range=Range1d(0, W), y_range=Range1d(H, 0),
           output_backend="svg", toolbar_location=None, min_border=0,
           x_axis_type=None, y_axis_type=None, outline_line_color=None,
           background_fill_color="white", border_fill_color="white")
p.grid.visible = False
p.stylesheets = [InlineStyleSheet(css=":host { shape-rendering: crispEdges; }")]

groups = {k: ([], []) for k in LEGEND_LABELS}
for n in PANELS:
    r, c = divmod(n - 1, NCOLS)
    x0 = c * CELL + 1
    y0 = r * CELL + 1
    for pol in ("XX", "YY"):
        vals = np.clip(np.array(globals()[f"{pol}_{n}"], dtype=float), DB_LO, DB_HI)
        xs = x0 + np.arange(len(vals)) / (len(vals) - 1) * INNER
        ys = y0 + (DB_HI - vals) / (DB_HI - DB_LO) * INNER
        flagged = n in (FLAGGED_XX if pol == "XX" else FLAGGED_YY)
        key = ("flagged " if flagged else "good ") + pol
        groups[key][0].append(xs.tolist())
        groups[key][1].append(ys.tolist())

for key in ["good XX", "flagged XX", "good YY", "flagged YY"]:
    xs, ys = groups[key]
    if xs:
        p.multi_line(xs, ys, line_color=COLORS[key], line_width=1.5)

# panel borders
bx, by = [], []
for c in range(NCOLS + 1):
    x = c * CELL
    bx.append([x, x]); by.append([0, NROWS * CELL + 1])
for r in range(NROWS + 1):
    y = r * CELL
    bx.append([0, NCOLS * CELL + 1]); by.append([y, y])
p.multi_line(bx, by, line_color="black", line_width=1)

# panel numbers
lx = [((n - 1) % NCOLS) * CELL + 5 for n in PANELS]
ly = [((n - 1) // NCOLS) * CELL + 4 for n in PANELS]
p.text(x=lx, y=ly, text=[str(n) for n in PANELS], text_font=value("Liberation Sans"),
       text_font_size="15px", text_baseline="top", text_align="left", text_color="black")

yb = NROWS * CELL + 10
p.text(x=[5, 211], y=[yb, yb], text=[TIMESTAMP, RANGE_TEXT], text_font=value("Liberation Sans"),
       text_font_size="15px", text_baseline="middle", text_align="left", text_color="black")
p.text(x=[703, 781, 860, 953], y=[yb] * 4, text=LEGEND_LABELS, text_color=LEGEND_COLORS,
       text_font=value("Liberation Sans"), text_font_size="14px", text_font_style="bold",
       text_baseline="middle", text_align="left")

open("out.html", "w").write(file_html(p, INLINE, title="spectra"))
